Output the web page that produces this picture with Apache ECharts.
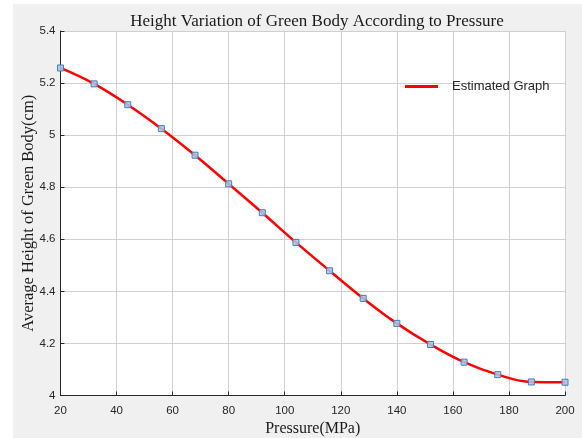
<!DOCTYPE html>
<html>
<head>
<meta charset="utf-8">
<style>
html,body{margin:0;padding:0;background:#ffffff;}
#chart{width:582px;height:438px;}
</style>
<script src="https://cdn.jsdelivr.net/npm/echarts@6/dist/echarts.min.js"></script>
</head>
<body>
<div id="chart"></div>
<script>
var pressure = [20, 32, 44, 56, 68, 80, 92, 104, 116, 128, 140, 152, 164, 176, 188, 200];
var height = [5.258, 5.197, 5.117, 5.025, 4.923, 4.813, 4.702, 4.588, 4.479, 4.373, 4.277, 4.196, 4.128, 4.080, 4.052, 4.051];
var seriesName = 'Estimated Graph';
var titleText = 'Height Variation of Green Body According to Pressure';
var xName = 'Pressure(MPa)';
var yName = 'Average Height of Green Body(cm)';

var pts = pressure.map(function (p, i) { return [p, height[i]]; });
var chart = echarts.init(document.getElementById('chart'), null, {renderer: 'canvas'});
var serif = '"Liberation Serif", "DejaVu Serif", serif';
var sans = '"Liberation Sans", Arial, sans-serif';
chart.setOption({
  backgroundColor: '#ffffff',
  animation: false,
  graphic: [{
    type: 'rect', z: -10, silent: true,
    shape: {x: 13, y: 4, width: 582, height: 438},
    style: {fill: '#f0f0f0'}
  }],
  title: {
    text: titleText,
    left: 312, top: 8, textAlign: 'center',
    textStyle: {fontFamily: serif, fontSize: 17, fontWeight: 'normal', color: '#1a1a1a'}
  },
  legend: {
    data: [{name: seriesName, icon: 'rect'}],
    left: 400, top: 75,
    itemWidth: 33, itemHeight: 3,
    textStyle: {fontFamily: sans, fontSize: 13, color: '#262626', padding: [0, 0, 0, 9]}
  },
  grid: {left: 60.5, right: 17, top: 31, bottom: 42.5, show: true, backgroundColor: '#ffffff', borderWidth: 0, containLabel: false, outerBoundsMode: 'none'},
  xAxis: {
    type: 'value', min: 20, max: 200, interval: 20,
    name: xName, nameLocation: 'middle', nameGap: 25, nameMoveOverlap: false,
    nameTextStyle: {fontFamily: serif, fontSize: 16, color: '#1a1a1a'},
    axisLine: {show: true, onZero: false, lineStyle: {color: '#262626', width: 1}},
    axisTick: {show: true, inside: true, length: 4, lineStyle: {color: '#262626'}},
    axisLabel: {fontFamily: sans, fontSize: 11.5, color: '#262626', margin: 9},
    splitLine: {show: true, lineStyle: {color: '#cfcfcf', width: 1}}
  },
  yAxis: {
    type: 'value', min: 4, max: 5.4, interval: 0.2,
    name: yName, nameLocation: 'middle', nameGap: 23, nameMoveOverlap: false,
    nameTextStyle: {fontFamily: serif, fontSize: 16.5, color: '#1a1a1a'},
    axisLine: {show: true, onZero: false, lineStyle: {color: '#262626', width: 1}},
    axisTick: {show: true, inside: true, length: 4, lineStyle: {color: '#262626'}},
    axisLabel: {fontFamily: sans, fontSize: 11.5, color: '#262626', margin: 5},
    splitLine: {show: true, lineStyle: {color: '#cfcfcf', width: 1}}
  },
  series: [{
    name: seriesName, type: 'line', data: pts,
    smooth: 0.4, symbol: 'none',
    lineStyle: {color: '#ff0000', width: 2.5},
    itemStyle: {color: '#ff0000'},
    z: 2
  }, {
    name: 'markers', type: 'scatter', data: pts,
    symbol: 'rect', symbolSize: 6,
    itemStyle: {color: 'rgba(175,200,228,0.85)', borderColor: '#3d7fc1', borderWidth: 1, opacity: 1},
    z: 3
  }]
});
</script>
</body>
</html>
